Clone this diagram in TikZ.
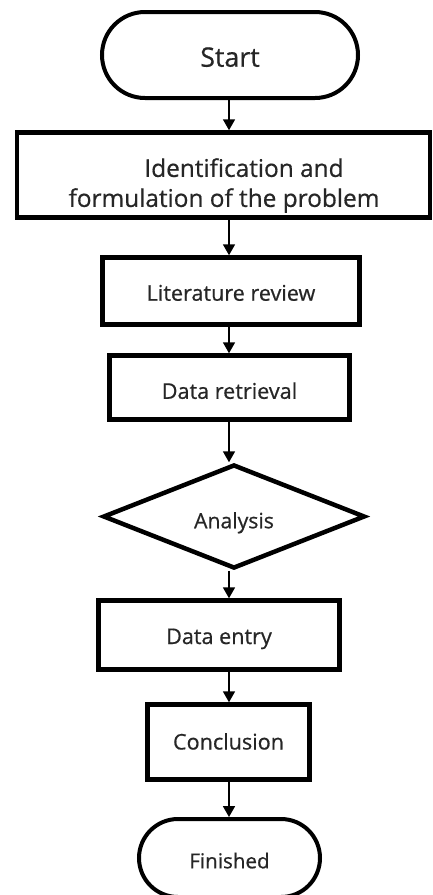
\documentclass[tikz,border=0pt]{standalone}
\usepackage{fontspec}
\setmainfont{Open Sans}[FakeBold=0.6]
\usetikzlibrary{shapes.geometric,arrows.meta}
\tikzset{
  box/.style={draw=black, line width=4.5pt, rectangle, inner sep=0pt, text=black!85, font=\fontsize{21.6}{26}\selectfont},
  term/.style={draw=black, line width=4pt, rectangle, inner sep=0pt, text=black!85, font=\fontsize{21.6}{26}\selectfont},
  decide/.style={draw=black, line width=4.5pt, diamond, inner sep=0pt, text=black!85, font=\fontsize{21.2}{26}\selectfont},
  txt/.style={inner sep=0pt, text=black!85},
  arr/.style={line width=1.8pt, -{Triangle[width=12pt,length=11pt]}},
}
\newcommand{\lowered}[2]{\raisebox{-#1}[0pt][0pt]{#2}}
\begin{document}
\begin{tikzpicture}[x=1pt,y=-1pt]
\clip (0,0) rectangle (433,895);
\fill[white] (0,0) rectangle (433,895);
\coordinate (ax) at (229,0);
\node[term, minimum width=256pt, minimum height=86pt, rounded corners=43pt, font=\fontsize{26.8}{30}\selectfont] (start) at (230,55) {\lowered{11.7pt}{Start}};
\node[box, minimum width=413pt, minimum height=85pt] (ident) at (223.5,175) {};
\node[txt, align=center, font=\fontsize{24.4}{30}\selectfont] (identtxt) at (224,185.5) {\hspace*{40pt}Identification and\\formulation of the problem};
\node[box, minimum width=257pt, minimum height=67pt] (lit) at (231,291) {\lowered{9.7pt}{Literature review}};
\node[box, minimum width=240pt, minimum height=64pt] (data) at (229.5,387.5) {\lowered{11.3pt}{Data retrieval}};
\node[decide, minimum width=262pt, minimum height=104pt] (anal) at (234,516.5) {\lowered{11.8pt}{Analysis}};
\node[box, minimum width=241pt, minimum height=69pt] (entry) at (219,635) {\lowered{9pt}{Data entry}};
\node[box, minimum width=162pt, minimum height=75pt] (concl) at (228.5,742) {\lowered{7.5pt}{Conclusion}};
\node[term, minimum width=181pt, minimum height=78pt, rounded corners=39pt, font=\fontsize{20.6}{26}\selectfont] (fin) at (229.5,858) {\lowered{10.3pt}{Finished}};
\draw[arr] (start.south -| ax) -- (ident.north -| ax);
\draw[arr] (ident.south -| ax) -- (lit.north -| ax);
\draw[arr] (lit.south -| ax) -- (data.north -| ax);
\draw[arr] (data.south -| ax) -- (anal.north -| ax);
\draw[arr] (anal.south -| ax) -- (entry.north -| ax);
\draw[arr] (entry.south -| ax) -- (concl.north -| ax);
\draw[arr] (concl.south -| ax) -- (fin.north -| ax);
\end{tikzpicture}
\end{document}
